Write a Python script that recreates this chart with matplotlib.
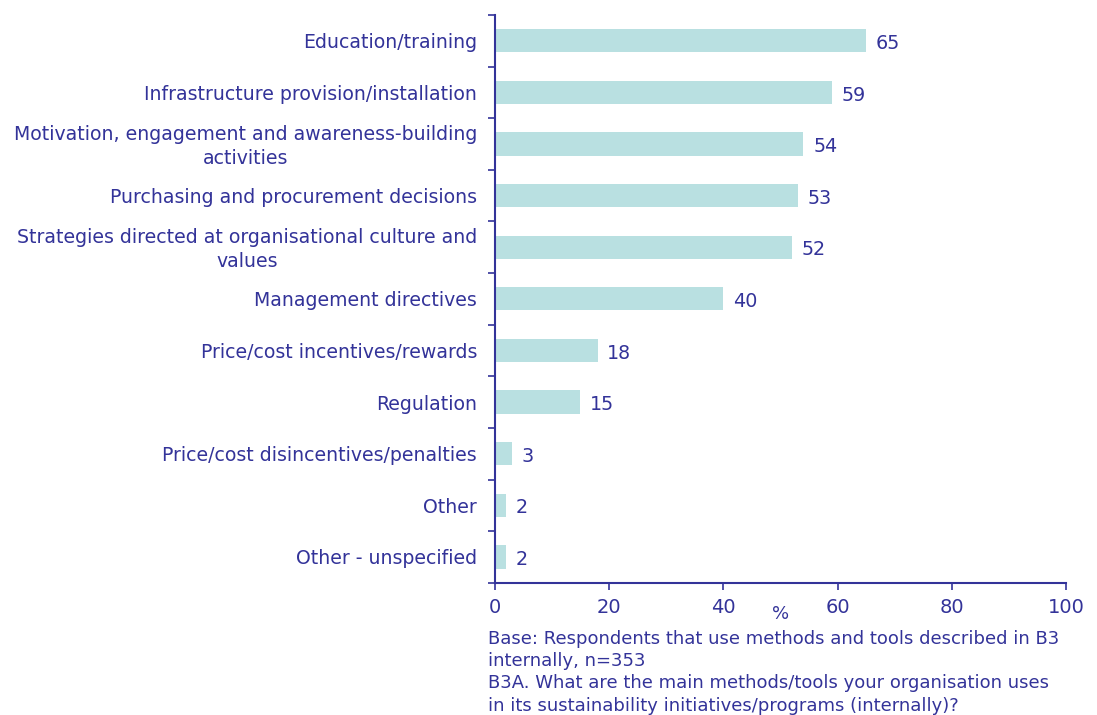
import matplotlib.pyplot as plt
import numpy as np

# survey answers, top to bottom
categories = [
    "Education/training",
    "Infrastructure provision/installation",
    "Motivation, engagement and awareness-building\nactivities",
    "Purchasing and procurement decisions",
    "Strategies directed at organisational culture and\nvalues",
    "Management directives",
    "Price/cost incentives/rewards",
    "Regulation",
    "Price/cost disincentives/penalties",
    "Other",
    "Other - unspecified",
]
values = [65, 59, 54, 53, 52, 40, 18, 15, 3, 2, 2]
x_ticks = [0, 20, 40, 60, 80, 100]

navy = "#333399"
bar_color = "#b9e0e1"

plt.rcParams["font.family"] = ["DejaVu Sans"]

fig = plt.figure(figsize=(10.97, 7.15), dpi=100)
ax = fig.add_axes([0.451, 0.185, 0.521, 0.794])

y = np.arange(len(categories))
ax.barh(y, values, height=0.45, color=bar_color)

for yi, v in zip(y, values):
    ax.text(v + 1.7, yi + 0.05, str(v), va="center", ha="left", fontsize=13.8, color=navy)

# category names, right-aligned left of the axis
trans = ax.get_yaxis_transform()
for yi, name in zip(y, categories):
    ax.text(-0.031, yi + 0.04, name, transform=trans, ha="right", va="center",
            multialignment="center", fontsize=13.6, color=navy, linespacing=1.32)

ax.set_xlim(0, 100)
ax.set_ylim(len(categories) - 0.5, -0.5)
ax.set_xticks(x_ticks)
ax.set_xticklabels([str(t) for t in x_ticks], fontsize=14, color=navy)

# tick marks on the category boundaries
ax.set_yticks(np.arange(len(categories) + 1) - 0.5)
ax.set_yticklabels([])
ax.tick_params(axis="y", length=5, width=1.2, color=navy)
ax.tick_params(axis="x", length=5, width=1.2, color=navy, pad=6)

for side in ["top", "right"]:
    ax.spines[side].set_visible(False)
for side in ["left", "bottom"]:
    ax.spines[side].set_color(navy)
    ax.spines[side].set_linewidth(1.5)

ax.set_xlabel("%", fontsize=13, color=navy, labelpad=-9)

note = ("Base: Respondents that use methods and tools described in B3\n"
        "internally, n=353\n"
        "B3A. What are the main methods/tools your organisation uses\n"
        "in its sustainability initiatives/programs (internally)?")
fig.text(488 / 1097, 1 - 630 / 715, note, fontsize=13, color=navy,
         va="top", ha="left", linespacing=1.3)

fig.savefig("out.png", dpi=100)
